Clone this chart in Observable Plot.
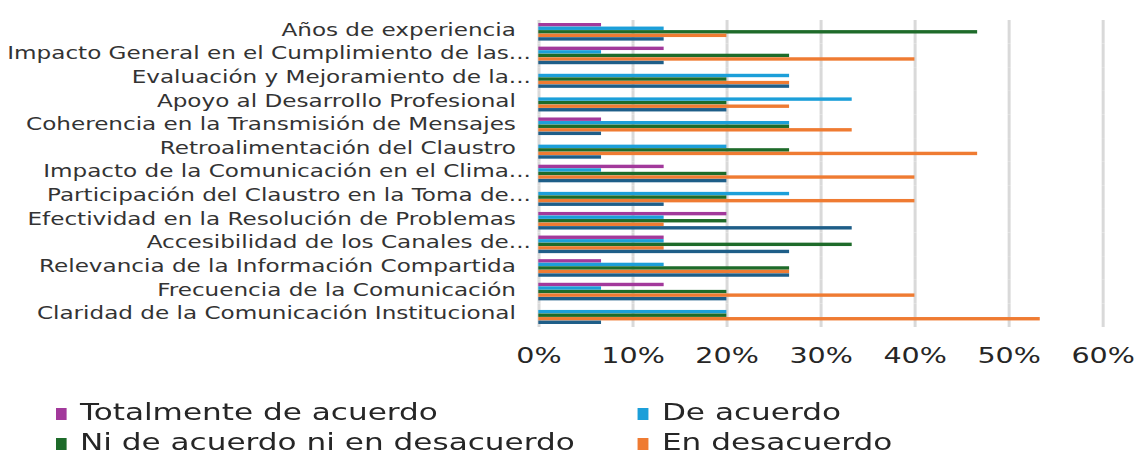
<!DOCTYPE html>
<html><head><meta charset="utf-8">
<script src="https://cdn.jsdelivr.net/npm/d3@7"></script>
<script src="https://cdn.jsdelivr.net/npm/@observablehq/plot@0.6"></script>
<style>
body{margin:0;background:#fff;}
#wrap{position:relative;width:843px;height:454px;transform:scaleX(1.3594);transform-origin:0 0;font-family:"DejaVu Sans",Verdana,sans-serif;}
#chart{position:absolute;left:0;top:0;}
.leg{position:absolute;font-size:22.9px;color:#262626;line-height:30px;white-space:nowrap;}
.sw{display:inline-block;width:8.8px;height:12px;margin-right:9.5px;vertical-align:0px;}
</style></head><body><div id="wrap"><div id="chart"></div><div id="legend"></div></div>
<script>
const categories = [
  "Años de experiencia",
  "Impacto General en el Cumplimiento de las...",
  "Evaluación y Mejoramiento de la...",
  "Apoyo al Desarrollo Profesional",
  "Coherencia en la Transmisión de Mensajes",
  "Retroalimentación del Claustro",
  "Impacto de la Comunicación en el Clima...",
  "Participación del Claustro en la Toma de...",
  "Efectividad en la Resolución de Problemas",
  "Accesibilidad de los Canales de...",
  "Relevancia de la Información Compartida",
  "Frecuencia de la Comunicación",
  "Claridad de la Comunicación Institucional"
];
const seriesNames = ["Totalmente de acuerdo", "De acuerdo", "Ni de acuerdo ni en desacuerdo", "En desacuerdo", "Totalmente en desacuerdo"];
const legendNames = ["Totalmente de acuerdo", "De acuerdo", "Ni de acuerdo ni en desacuerdo", "En desacuerdo"];
const seriesColors = ["#a2399b", "#1c9fd9", "#1e6b2a", "#ef7b32", "#1e5e88"];
const totalmenteDeAcuerdo = [6.67, 13.33, 0, 0, 6.67, 0, 13.33, 0, 20, 13.33, 6.67, 13.33, 0];
const deAcuerdo = [13.33, 6.67, 26.67, 33.33, 26.67, 20, 6.67, 26.67, 13.33, 13.33, 13.33, 6.67, 20];
const niAcuerdoNiDesacuerdo = [46.67, 26.67, 20, 20, 26.67, 26.67, 20, 20, 20, 33.33, 26.67, 20, 20];
const enDesacuerdo = [20, 40, 26.67, 26.67, 33.33, 46.67, 40, 40, 13.33, 13.33, 26.67, 40, 53.33];
const totalmenteEnDesacuerdo = [13.33, 13.33, 26.67, 20, 6.67, 6.67, 20, 13.33, 33.33, 26.67, 26.67, 20, 6.67];
const xTicks = [0, 10, 20, 30, 40, 50, 60];

const seriesValues = [totalmenteDeAcuerdo, deAcuerdo, niAcuerdoNiDesacuerdo, enDesacuerdo, totalmenteEnDesacuerdo];
const data = categories.flatMap((c, i) => seriesNames.map((s, j) => ({category: c, series: s, value: seriesValues[j][i]})));
const truncated = categories.filter(c => c.endsWith("..."));
const full = categories.filter(c => !c.endsWith("..."));

const chart = Plot.plot({
  width: 843, height: 380,
  marginLeft: 396, marginRight: 32, marginTop: 20, marginBottom: 53,
  style: {fontFamily: '"DejaVu Sans", Verdana, sans-serif', color: "#333", background: "#fff"},
  fy: {domain: categories, padding: 0, round: false, axis: null},
  y: {domain: seriesNames, axis: null, round: false, paddingInner: 0.04, paddingOuter: 0.85},
  x: {domain: [0, 60], axis: null},
  color: {domain: seriesNames, range: seriesColors},
  marks: [
    Plot.ruleX(xTicks, {stroke: "#d9d9d9", strokeWidth: 2.2}),
    Plot.barX(data, {fy: "category", y: "series", x: "value", fill: "series"}),
    Plot.axisX({ticks: xTicks, tickFormat: d => d + "%", tickSize: 0, tickPadding: 21, fontSize: 21, label: null, color: "#262626"}),
    Plot.axisFy({ticks: full, anchor: "left", tickSize: 0, tickPadding: 17, fontSize: 17, label: null, color: "#333", dy: -2}),
    Plot.axisFy({ticks: truncated, anchor: "left", tickSize: 0, tickPadding: 6, fontSize: 17, label: null, color: "#333", dy: -2})
  ]
});
document.getElementById("chart").appendChild(chart);

const pos = [[40.5, 397], [468.6, 397], [40.5, 427], [468.6, 427]];
const legend = document.getElementById("legend");
legendNames.forEach((name, i) => {
  const d = document.createElement("div");
  d.className = "leg";
  d.style.left = pos[i][0] + "px";
  d.style.top = pos[i][1] + "px";
  const sw = document.createElement("span");
  sw.className = "sw";
  sw.style.background = seriesColors[i];
  d.appendChild(sw);
  d.appendChild(document.createTextNode(name));
  legend.appendChild(d);
});
</script></body></html>
